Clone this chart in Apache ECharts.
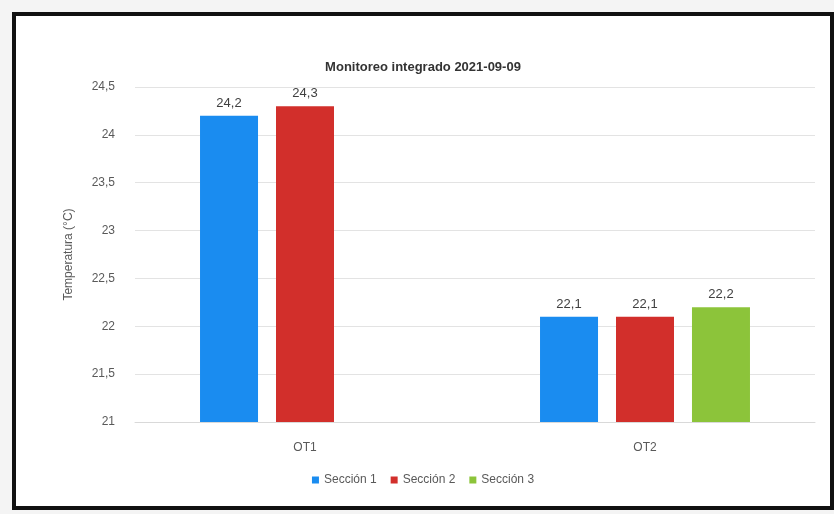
<!DOCTYPE html>
<html>
<head>
<meta charset="utf-8">
<script src="https://cdn.jsdelivr.net/npm/echarts@6/dist/echarts.min.js"></script>
<style>
  html, body { margin: 0; padding: 0; background: #f4f4f4; }
  #chart { position: absolute; left: 12px; top: 12px; width: 822px; height: 498px; background: #fff; box-sizing: border-box; border: 4px solid #111; }
</style>
</head>
<body>
<div id="chart"></div>
<script>
// datos del monitoreo
const categories = ['OT1', 'OT2']
const seccion1 = [24.2, 22.1]
const seccion2 = [24.3, 22.1]
const seccion3 = [null, 22.2]
const yTicks = [21, 21.5, 22, 22.5, 23, 23.5, 24, 24.5]

const fmt = v => String(v).replace('.', ',')

const chart = echarts.init(document.getElementById('chart'))

function barSerie(name, data, color) {
  return {
    name: name,
    type: 'bar',
    data: data,
    barWidth: 58,
    barGap: '31%',
    itemStyle: { color: color },
    label: {
      show: true,
      position: 'top',
      distance: 6,
      color: '#404040',
      fontSize: 13,
      fontFamily: 'Liberation Sans',
      formatter: p => fmt(p.value)
    }
  }
}

chart.setOption({
  animation: false,
  title: {
    text: 'Monitoreo integrado 2021-09-09',
    left: 'center',
    top: 40,
    textStyle: { fontSize: 13, fontWeight: 'bold', color: '#333', fontFamily: 'Liberation Sans' }
  },
  grid: {
    left: 119,
    right: 15,
    top: 71,
    bottom: 84
  },
  legend: {
    bottom: 15,
    left: 'center',
    itemWidth: 7,
    itemHeight: 7,
    itemGap: 14,
    icon: 'rect',
    textStyle: { color: '#595959', fontSize: 12, fontFamily: 'Liberation Sans' },
    data: ['Sección 1', 'Sección 2', 'Sección 3']
  },
  xAxis: {
    type: 'category',
    data: categories,
    axisLine: { lineStyle: { color: '#d9d9d9' } },
    axisTick: { show: false },
    axisLabel: { color: '#595959', fontSize: 12, margin: 20, fontFamily: 'Liberation Sans' }
  },
  yAxis: {
    type: 'value',
    min: yTicks[0],
    max: yTicks[yTicks.length - 1],
    interval: 0.5,
    name: 'Temperatura (°C)',
    nameLocation: 'middle',
    nameGap: 60,
    nameTextStyle: { color: '#595959', fontSize: 12, fontFamily: 'Liberation Sans' },
    axisLabel: { color: '#595959', fontSize: 12, margin: 20, fontFamily: 'Liberation Sans', formatter: v => fmt(v) },
    splitLine: { lineStyle: { color: '#e3e3e3' } }
  },
  series: [
    barSerie('Sección 1', seccion1, '#1a8cf0'),
    barSerie('Sección 2', seccion2, '#d22f2b'),
    barSerie('Sección 3', seccion3, '#8cc43a')
  ]
})
</script>
</body>
</html>
